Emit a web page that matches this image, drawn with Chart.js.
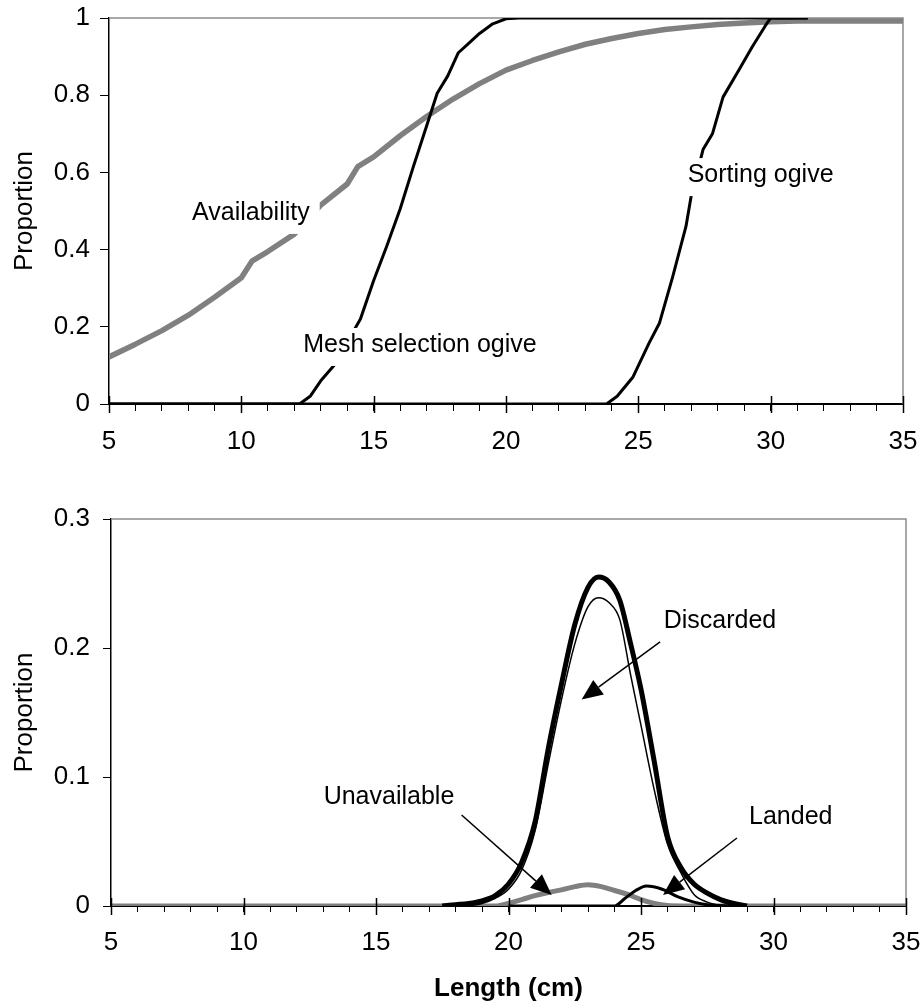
<!DOCTYPE html>
<html>
<head>
<meta charset="utf-8">
<script src="https://cdn.jsdelivr.net/npm/chart.js@4.4.0/dist/chart.umd.min.js"></script>
<style>
  body { margin: 0; background: #fff; }
  canvas { position: absolute; left: 0; }
  #topChart { top: 0; }
  #bottomChart { top: 480px; }
</style>
</head>
<body>
<canvas id="topChart" width="923" height="480"></canvas>
<canvas id="bottomChart" width="923" height="525"></canvas>
<script>
// --- top panel: ogives
const meshX = [5, 12.2, 12.6, 13, 13.5, 14, 14.5, 15, 15.5, 16, 16.5, 17, 17.4, 17.8, 18.2, 18.6, 19, 19.5, 20, 20.5, 31.4];
const meshY = [0, 0, 0.02, 0.06, 0.1, 0.16, 0.22, 0.32, 0.41, 0.505, 0.615, 0.72, 0.805, 0.85, 0.91, 0.935, 0.96, 0.985, 0.998, 1, 1];

const sortX = [5, 23.8, 24.2, 24.8, 25.4, 25.8, 26.3, 26.8, 27, 27.45, 27.8, 28.2, 28.8, 29.3, 29.8, 30, 31.4];
const sortY = [0, 0, 0.02, 0.07, 0.157, 0.21, 0.33, 0.46, 0.54, 0.66, 0.7, 0.795, 0.865, 0.925, 0.98, 1, 1];

const availX = [5, 6, 7, 8, 9, 10, 10.4, 11, 12, 13, 14, 14.4, 15, 16, 17, 18, 19, 20, 21, 22, 23, 24, 25, 26, 27, 28, 29, 30, 31, 35];
const availY = [0.122, 0.155, 0.19, 0.23, 0.277, 0.327, 0.37, 0.395, 0.44, 0.515, 0.57, 0.615, 0.64, 0.695, 0.745, 0.79, 0.83, 0.865, 0.89, 0.912, 0.932, 0.947, 0.96, 0.97, 0.977, 0.983, 0.987, 0.99, 0.992, 0.992];

// --- bottom panel: length distributions
const totalX = [17.5, 18, 18.5, 19, 19.5, 20, 20.5, 21, 21.5, 22, 22.5, 23, 23.4, 23.8, 24.2, 24.6, 25, 25.5, 26, 26.5, 27, 27.5, 28, 28.5, 29];
const totalY = [0, 0.001, 0.002, 0.004, 0.008, 0.017, 0.034, 0.065, 0.122, 0.172, 0.218, 0.247, 0.255, 0.251, 0.237, 0.204, 0.168, 0.112, 0.054, 0.03, 0.017, 0.01, 0.005, 0.002, 0];

const discX = [18.5, 19, 19.5, 20, 20.5, 21, 21.5, 22, 22.5, 23, 23.4, 23.8, 24.2, 24.6, 25, 25.5, 26, 26.5, 27, 27.5, 28];
const discY = [0, 0.002, 0.006, 0.013, 0.028, 0.058, 0.11, 0.16, 0.203, 0.232, 0.239, 0.235, 0.222, 0.18, 0.14, 0.09, 0.048, 0.026, 0.009, 0.003, 0];

const landX = [20, 24, 24.4, 24.8, 25.2, 25.8, 26.4, 27, 27.5, 28.5];
const landY = [0, 0, 0.006, 0.012, 0.0155, 0.013, 0.007, 0.003, 0.001, 0];

const unavX = [5, 19.5, 20, 20.5, 21, 21.5, 22, 22.5, 23, 23.5, 24, 24.5, 25, 25.5, 26, 26.5, 35];
const unavY = [0, 0, 0.002, 0.005, 0.008, 0.0105, 0.0125, 0.015, 0.0165, 0.015, 0.012, 0.009, 0.005, 0.002, 0.0003, 0, 0];

const FONT = '"Liberation Sans", Arial, sans-serif';
Chart.defaults.font.family = FONT;
Chart.defaults.font.size = 26;
Chart.defaults.color = '#000';

function pts(xs, ys) {
  return xs.map((x, i) => ({x: x, y: ys[i]}));
}

function series(xs, ys, color, width, smooth) {
  return {
    data: pts(xs, ys),
    borderColor: color,
    borderWidth: width,
    pointRadius: 0,
    fill: false,
    borderJoinStyle: 'round',
    cubicInterpolationMode: smooth ? 'monotone' : 'default',
    tension: 0
  };
}

// gray frame on top/right of plot, long ticks at 5,10,...
const framePlugin = {
  id: 'frame',
  beforeDatasetsDraw(chart) {
    const {ctx, chartArea: a} = chart;
    ctx.save();
    ctx.strokeStyle = '#8c8c8c';
    ctx.lineWidth = 1.5;
    ctx.beginPath();
    ctx.moveTo(a.left, a.top);
    ctx.lineTo(a.right, a.top);
    ctx.lineTo(a.right, a.bottom);
    ctx.stroke();
    ctx.restore();
  },
  afterDraw(chart) {
    const {ctx, chartArea: a} = chart;
    const xs = chart.scales.x;
    ctx.save();
    ctx.strokeStyle = '#000';
    ctx.lineWidth = 1.5;
    xs.ticks.forEach(t => {
      if (t.value % 5 !== 0) return;
      const px = Math.round(xs.getPixelForValue(t.value)) + 0.5;
      ctx.beginPath();
      ctx.moveTo(px, a.bottom - 8);
      ctx.lineTo(px, a.bottom + 9);
      ctx.stroke();
    });
    ctx.restore();
  }
};

function drawArrow(ctx, x1, y1, x2, y2) {
  const ang = Math.atan2(y2 - y1, x2 - x1);
  const len = 21, half = 9;
  const bx = x2 - len * Math.cos(ang), by = y2 - len * Math.sin(ang);
  ctx.beginPath();
  ctx.moveTo(x1, y1);
  ctx.lineTo(bx, by);
  ctx.stroke();
  ctx.beginPath();
  ctx.moveTo(x2, y2);
  ctx.lineTo(bx + half * Math.sin(ang), by - half * Math.cos(ang));
  ctx.lineTo(bx - half * Math.sin(ang), by + half * Math.cos(ang));
  ctx.closePath();
  ctx.fill();
}

const notesPlugin = {
  id: 'notes',
  afterDatasetsDraw(chart, args, opts) {
    const {ctx} = chart;
    const xs = chart.scales.x, ys = chart.scales.y;
    ctx.save();
    ctx.strokeStyle = '#000';
    ctx.fillStyle = '#000';
    ctx.lineWidth = 1.5;
    (opts.arrows || []).forEach(a => {
      drawArrow(ctx, xs.getPixelForValue(a.from[0]), ys.getPixelForValue(a.from[1]),
        xs.getPixelForValue(a.to[0]), ys.getPixelForValue(a.to[1]));
    });
    ctx.font = '25px ' + FONT;
    ctx.textAlign = 'center';
    ctx.textBaseline = 'middle';
    (opts.labels || []).forEach(l => {
      const px = xs.getPixelForValue(l.at[0]);
      const py = ys.getPixelForValue(l.at[1]);
      if (opts.box) {
        const w = ctx.measureText(l.text).width + 20;
        ctx.fillStyle = '#fff';
        ctx.fillRect(px - w / 2, py - 17, w, 38);
      }
      ctx.fillStyle = '#000';
      ctx.fillText(l.text, px, py);
    });
    ctx.restore();
  }
};

function lengthAxis(tickLen, pad, height, title) {
  return {
    type: 'linear',
    min: 5,
    max: 35,
    ticks: {
      stepSize: 1,
      autoSkip: false,
      maxRotation: 0,
      padding: pad,
      callback: v => (v % 5 === 0 ? v : '')
    },
    grid: {drawOnChartArea: false, color: '#000', lineWidth: 1, tickLength: tickLen},
    border: {display: true, color: '#000', width: 2},
    title: title ? {display: true, text: title, font: {size: 26, weight: 'bold'}, padding: {top: 0, bottom: 1}} : {display: false},
    afterFit: s => {
      s.height = height;
      s.paddingLeft = 0;
      s.paddingRight = 0;
    }
  };
}

function propAxis(max, step, width, tickLen, pad) {
  return {
    min: 0,
    max: max,
    ticks: {stepSize: step, padding: pad, callback: v => String(+v.toFixed(2))},
    grid: {drawOnChartArea: false, color: '#000', lineWidth: 1, tickLength: tickLen},
    border: {display: true, color: '#000', width: 1.5},
    title: {display: true, text: 'Proportion', padding: {top: 9, bottom: 0}},
    afterFit: s => {
      s.width = width;
      s.paddingTop = 0;
      s.paddingBottom = 0;
    }
  };
}

new Chart(document.getElementById('topChart'), {
  type: 'line',
  data: {
    datasets: [
      series(meshX, meshY, '#000', 3, false),
      series(sortX, sortY, '#000', 3, false),
      series(availX, availY, '#808080', 5.5, false)
    ]
  },
  options: {
    responsive: false,
    devicePixelRatio: 1,
    animation: false,
    layout: {padding: {top: 18, right: 20, left: 0, bottom: 0}},
    scales: {
      x: lengthAxis(7, 15, 76, null),
      y: propAxis(1, 0.2, 109, 9, 10)
    },
    plugins: {
      legend: {display: false},
      tooltip: {enabled: false},
      notes: {
        box: true,
        labels: [
          {text: 'Availability', at: [10.36, 0.495]},
          {text: 'Mesh selection ogive', at: [16.75, 0.153]},
          {text: 'Sorting ogive', at: [29.62, 0.593]}
        ]
      }
    }
  },
  plugins: [framePlugin, notesPlugin]
});

new Chart(document.getElementById('bottomChart'), {
  type: 'line',
  data: {
    datasets: [
      series(landX, landY, '#000', 3, true),
      series(discX, discY, '#000', 1.5, true),
      series(totalX, totalY, '#000', 5, true),
      series(unavX, unavY, '#808080', 5, true)
    ]
  },
  options: {
    responsive: false,
    devicePixelRatio: 1,
    animation: false,
    layout: {padding: {top: 39, right: 17, left: 0, bottom: 0}},
    scales: {
      x: lengthAxis(6, 15, 99, 'Length (cm)'),
      y: propAxis(0.3, 0.1, 111, 8, 13)
    },
    plugins: {
      legend: {display: false},
      tooltip: {enabled: false},
      notes: {
        box: false,
        labels: [
          {text: 'Discarded', at: [27.98, 0.221]},
          {text: 'Unavailable', at: [15.49, 0.0847]},
          {text: 'Landed', at: [30.65, 0.0692]}
        ],
        arrows: [
          {from: [25.72, 0.2047], to: [22.76, 0.16]},
          {from: [18.23, 0.0705], to: [21.63, 0.0085]},
          {from: [28.62, 0.0527], to: [25.83, 0.0085]}
        ]
      }
    }
  },
  plugins: [framePlugin, notesPlugin]
});
</script>
</body>
</html>
